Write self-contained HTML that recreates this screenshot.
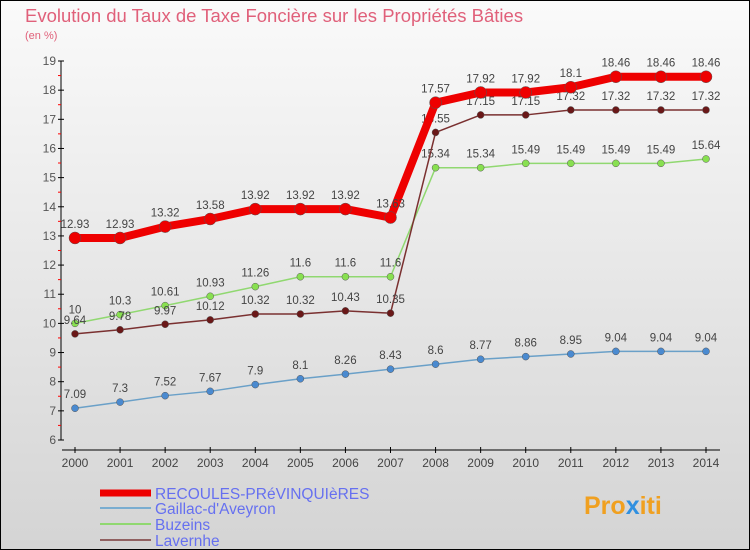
<!DOCTYPE html>
<html><head><meta charset="utf-8"><style>
body{margin:0;}
#c{width:750px;height:550px;position:relative;overflow:hidden;}
svg text{font-family:"Liberation Sans",sans-serif;}
</style></head><body>
<div id="c">
<svg id="s" width="750" height="550" xmlns="http://www.w3.org/2000/svg">
<defs><linearGradient id="bg" x1="0" y1="0" x2="0" y2="1"><stop offset="0" stop-color="#fafafa"/><stop offset="1" stop-color="#d4d4d4"/></linearGradient></defs>
<rect x="0.5" y="0.5" width="749" height="549" fill="url(#bg)" stroke="#000"/>
<text x="25" y="22" font-size="18.5" fill="#e0607a">Evolution du Taux de Taxe Foncière sur les Propriétés Bâties</text>
<text x="25" y="39" font-size="11" fill="#e0607a">(en %)</text>
<g id="axes"></g><g id="series"></g>
<g>
<line x1="100" y1="493" x2="151" y2="493" stroke="#e00" stroke-width="7"/>
<text x="155" y="499" font-size="15.5" fill="#6670f0">RECOULES-PRéVINQUIèRES</text>
<line x1="100" y1="508" x2="151" y2="508" stroke="#7aadd0" stroke-width="2"/>
<text x="155" y="514" font-size="15.5" fill="#6670f0">Gaillac-d'Aveyron</text>
<line x1="100" y1="524" x2="151" y2="524" stroke="#90d870" stroke-width="2"/>
<text x="155" y="530" font-size="15.5" fill="#6670f0">Buzeins</text>
<line x1="100" y1="540" x2="151" y2="540" stroke="#906060" stroke-width="2"/>
<text x="155" y="546" font-size="15.5" fill="#6670f0">Lavernhe</text>
</g>
<g><text x="584" y="514" font-size="25" font-weight="bold" fill="#f0a020">Pro<tspan fill="#3090e0">x</tspan>iti</text></g>
</svg></div>
<script>
const years=[2000,2001,2002,2003,2004,2005,2006,2007,2008,2009,2010,2011,2012,2013,2014];
const yTicks=[6,7,8,9,10,11,12,13,14,15,16,17,18,19];
const recoules=[12.93,12.93,13.32,13.58,13.92,13.92,13.92,13.63,17.57,17.92,17.92,18.1,18.46,18.46,18.46];
const gaillac=[7.09,7.3,7.52,7.67,7.9,8.1,8.26,8.43,8.6,8.77,8.86,8.95,9.04,9.04,9.04];
const buzeins=[10,10.3,10.61,10.93,11.26,11.6,11.6,11.6,15.34,15.34,15.49,15.49,15.49,15.49,15.64];
const lavernhe=[9.64,9.78,9.97,10.12,10.32,10.32,10.43,10.35,16.55,17.15,17.15,17.32,17.32,17.32,17.32];
const NS="http://www.w3.org/2000/svg";
function xS(i){return 75+i*(706-75)/(years.length-1);}
function yS(v){return 440-(v-6)*(440-61)/13;}
function mk(t,a,p){const e=document.createElementNS(NS,t);for(const k in a)e.setAttribute(k,a[k]);p.appendChild(e);return e;}
const ax=document.getElementById('axes'),sg=document.getElementById('series');
let l=mk('line',{x1:61,y1:61,x2:61,y2:440,stroke:'#000'},ax);


l=mk('line',{x1:62,y1:450,x2:720,y2:450,stroke:'#000'},ax);


yTicks.forEach(v=>{const y=yS(v);
 mk('line',{x1:58,y1:y,x2:64,y2:y,stroke:'#000'},ax);
 if(v<19)mk('line',{x1:58,y1:y-14.6,x2:61,y2:y-14.6,stroke:'#f00'},ax);
 const t=mk('text',{x:56,y:y+4,'font-size':12,fill:'#555','text-anchor':'end'},ax);t.textContent=v;
 
 });
years.forEach((yr,i)=>{const x=xS(i);
 mk('line',{x1:x,y1:447,x2:x,y2:453,stroke:'#000'},ax);
 const t=mk('text',{x:x,y:467,'font-size':12,fill:'#444','text-anchor':'middle'},ax);t.textContent=yr;
 
 });
function draw(vals,name,col,w,r,dot){
 const g=mk('g',{},sg);
 
 
 const p=mk('polyline',{points:vals.map((v,i)=>xS(i)+','+yS(v)).join(' '),fill:'none',stroke:col,'stroke-width':w,'stroke-linejoin':'round'},g);
 
 
 vals.forEach((v,i)=>{const c=mk('circle',{cx:xS(i),cy:yS(v),r:r,fill:dot,stroke:'#555','stroke-width':0.5},g);
  
  
  const t=mk('text',{x:xS(i),y:yS(v)-10,'font-size':11.5,fill:'#444','text-anchor':'middle'},g);t.textContent=v;
  
  });
}
draw(gaillac,'gaillac','#6aa0c8',1.5,3.5,'#4a8ad0');
draw(buzeins,'buzeins','#90d870',1.5,3.5,'#88e050');
draw(lavernhe,'lavernhe','#7a3030',1.5,3.5,'#6a1818');
draw(recoules,'recoules','#e00',8,6,'#e00');
</script></body></html>
